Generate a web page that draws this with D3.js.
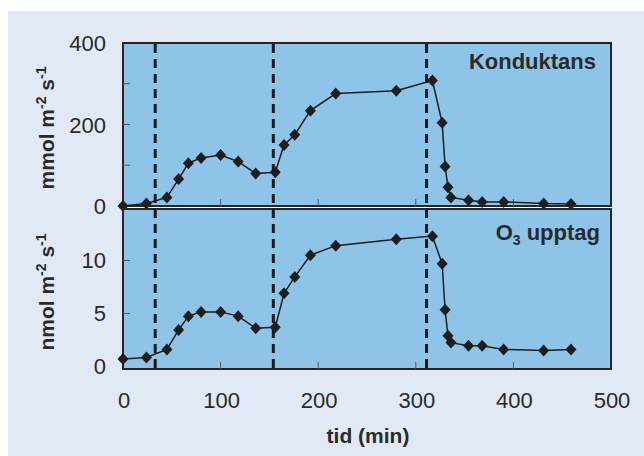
<!DOCTYPE html>
<html>
<head>
<meta charset="utf-8">
<script src="https://cdn.jsdelivr.net/npm/d3@7.9.0/dist/d3.min.js"></script>
<style>
  body { margin: 0; background: #ffffff; }
  svg { display: block; }
  text { font-family: "Liberation Sans", Arial, sans-serif; fill: #2a2a2a; }
</style>
</head>
<body>
<svg id="chart" width="644" height="456"></svg>
<script>
// time in minutes, shared by both series
const tid = [0, 24, 45, 57, 67, 80, 100, 118, 136, 156, 165, 176, 192, 218, 280, 317, 327, 330, 333, 336, 354, 368, 390, 431, 459];
// stomatal conductance (mmol m-2 s-1)
const konduktans = [0, 6, 21, 66, 105, 118, 125, 109, 80, 83, 150, 175, 234, 276, 283, 308, 204, 97, 46, 21, 14, 10, 10, 6, 5];
// ozone uptake (nmol m-2 s-1)
const o3upptag = [0.7, 0.85, 1.6, 3.45, 4.75, 5.15, 5.15, 4.75, 3.6, 3.7, 6.9, 8.45, 10.5, 11.4, 12.0, 12.3, 9.7, 5.35, 2.9, 2.25, 1.95, 1.95, 1.6, 1.5, 1.6];
// treatment changes (dashed lines)
const byten = [33, 154, 311];

const xTicks = [0, 100, 200, 300, 400, 500];
const topTicksMajor = [0, 200, 400];
const topTicksMinor = [100, 200, 300];
const botTicks = [0, 5, 10];
const botTicksInner = [5, 10];

const svg = d3.select("#chart");

// page background panel
svg.append("rect").attr("x", 8).attr("y", 11).attr("width", 636).attr("height", 445).attr("fill", "#e1e9f5");

const left = 123, right = 611;
const x = d3.scaleLinear().domain([0, 500]).range([left, right]);
const yTop = d3.scaleLinear().domain([0, 400]).range([206, 43]);
const yBot = d3.scaleLinear().domain([-0.24, 14.86]).range([369, 209]);

// white gap between the panels
svg.append("rect").attr("x", left).attr("y", 206).attr("width", right - left).attr("height", 3).attr("fill", "#ffffff");

function panel(y, y0, y1, yTickInner, values) {
  svg.append("rect")
    .attr("x", left).attr("y", y1)
    .attr("width", right - left).attr("height", y0 - y1)
    .attr("fill", "#8fc4e9")
    .attr("stroke", "#262626").attr("stroke-width", 2);

  // inner ticks on the y axis
  svg.append("g").selectAll("line").data(yTickInner).join("line")
    .attr("x1", left).attr("x2", left + 7)
    .attr("y1", d => y(d)).attr("y2", d => y(d))
    .attr("stroke", "#555").attr("stroke-width", 1);

  // inner ticks on the x axis
  svg.append("g").selectAll("line").data([100, 200, 300, 400]).join("line")
    .attr("x1", d => x(d)).attr("x2", d => x(d))
    .attr("y1", y0).attr("y2", y0 - 7)
    .attr("stroke", "#555").attr("stroke-width", 1);

  const pts = tid.map((t, i) => [t, values[i]]);
  svg.append("path")
    .datum(pts)
    .attr("fill", "none")
    .attr("stroke", "#1e1e1e")
    .attr("stroke-width", 1.5)
    .attr("d", d3.line().x(d => x(d[0])).y(d => y(d[1])));

  svg.append("g").selectAll("path").data(pts).join("path")
    .attr("transform", d => `translate(${x(d[0])},${y(d[1])})`)
    .attr("d", "M0,-6L5.5,0L0,6L-5.5,0Z")
    .attr("fill", "#1e1e1e");
}

panel(yTop, 206, 43, topTicksMinor, konduktans);
panel(yBot, 369, 209, botTicksInner, o3upptag);

// dashed vertical lines
svg.append("g").selectAll("line").data(byten).join("line")
  .attr("x1", d => x(d)).attr("x2", d => x(d))
  .attr("y1", 44).attr("y2", 368)
  .attr("stroke", "#1a1a1a").attr("stroke-width", 3)
  .attr("stroke-dasharray", "9,6");

// tick labels
svg.append("g").selectAll("text").data(topTicksMajor).join("text")
  .attr("x", 106).attr("y", d => yTop(d) + 8)
  .attr("text-anchor", "end").attr("font-size", 22)
  .text(d => d);

svg.append("g").selectAll("text").data(botTicks).join("text")
  .attr("x", 106).attr("y", d => yBot(d) + 8)
  .attr("text-anchor", "end").attr("font-size", 22)
  .text(d => d);

svg.append("g").selectAll("text").data(xTicks).join("text")
  .attr("x", d => x(d) + 1).attr("y", 408)
  .attr("text-anchor", "middle").attr("font-size", 22)
  .text(d => d);

// x title
svg.append("text")
  .attr("x", 368).attr("y", 443)
  .attr("text-anchor", "middle").attr("font-size", 21).attr("font-weight", "bold")
  .text("tid (min)");

// y titles with superscripts
function yTitle(cx, cy, base) {
  const t = svg.append("text")
    .attr("transform", `translate(${cx},${cy}) rotate(-90)`)
    .attr("text-anchor", "middle").attr("font-size", 21).attr("font-weight", "bold");
  t.append("tspan").text(base + " m");
  t.append("tspan").attr("font-size", 14).attr("dy", -8).text("-2");
  t.append("tspan").attr("dy", 8).text(" s");
  t.append("tspan").attr("font-size", 14).attr("dy", -8).text("-1");
}
yTitle(54, 128, "mmol");
yTitle(54, 292, "nmol");

// panel labels
svg.append("text")
  .attr("x", 596).attr("y", 69)
  .attr("text-anchor", "end").attr("font-size", 22).attr("font-weight", "bold")
  .text("Konduktans");

const o3 = svg.append("text")
  .attr("x", 600).attr("y", 240)
  .attr("text-anchor", "end").attr("font-size", 22).attr("font-weight", "bold");
o3.append("tspan").text("O");
o3.append("tspan").attr("font-size", 14).attr("dy", 5).text("3");
o3.append("tspan").attr("dy", -5).text(" upptag");
</script>
</body>
</html>
